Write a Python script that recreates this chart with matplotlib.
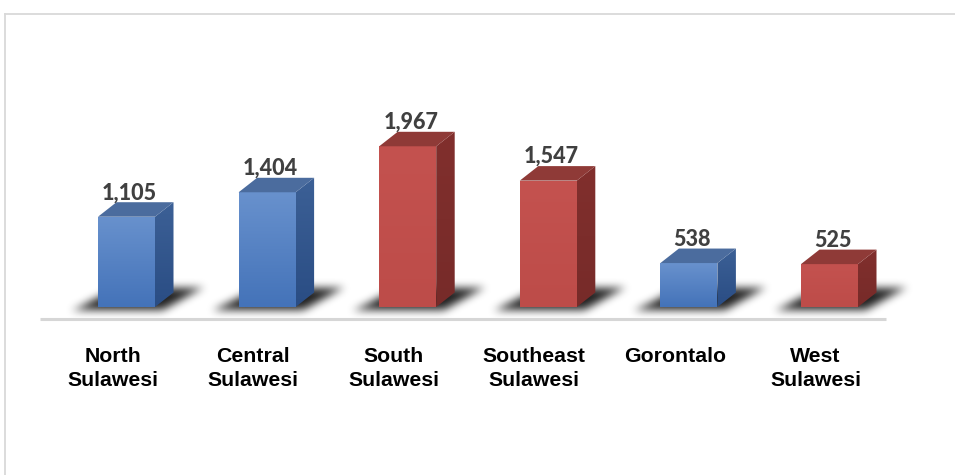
import numpy as np
import matplotlib
matplotlib.use("Agg")
import matplotlib.pyplot as plt
from matplotlib.patches import Polygon
from matplotlib.path import Path
from matplotlib.colors import to_rgb

# ---- data ----
categories = ["North\nSulawesi", "Central\nSulawesi", "South\nSulawesi",
              "Southeast\nSulawesi", "Gorontalo", "West\nSulawesi"]
values = [1105, 1404, 1967, 1547, 538, 525]
value_labels = ["1,105", "1,404", "1,967", "1,547", "538", "525"]
bar_groups = ["blue", "blue", "red", "red", "blue", "red"]

# ---- styles ----
W, H, DPI = 955, 475, 100
palette = {
    "blue": dict(front_top="#6891cd", front_bot="#4473b9",
                 side_top="#3c6096", side_bot="#2a4d84", top="#4b6c9e"),
    "red": dict(front_top="#c4524f", front_bot="#bd4c49",
                side_top="#812f2d", side_bot="#772b29", top="#8f3a37"),
}
px_per_cat = 140.6
px_per_unit = 0.0817
x0_px = 126.5          # front-face centre of first bar (pixels from left)
base_px = 475 - 307    # baseline (pixels from bottom)
bar_w_px = 57
depth_dx_px, depth_dy_px = 18.5, 14.5

fig = plt.figure(figsize=(W / DPI, H / DPI), dpi=DPI)
fig.patch.set_facecolor("white")
ax = fig.add_axes([0, 0, 1, 1])
ax.set_axis_off()
xlim = (-x0_px / px_per_cat, (W - x0_px) / px_per_cat)
ylim = (-base_px / px_per_unit, (H - base_px) / px_per_unit)

half_w = bar_w_px / 2 / px_per_cat
ddx = depth_dx_px / px_per_cat
ddy = depth_dy_px / px_per_unit


def grad_img(c_top, c_bot, n=64):
    a = np.array(to_rgb(c_top))
    b = np.array(to_rgb(c_bot))
    t = np.linspace(0, 1, n)[:, None]
    return (a * (1 - t) + b * t)[:, None, :]


# ---- floor shadows (blurred) ----
ax.set_xlim(*xlim)
ax.set_ylim(*ylim)
yy, xx = np.mgrid[0:H, 0:W]
pts = np.column_stack([xx.ravel() + 0.5, (H - yy.ravel() - 0.5)])
mask = np.zeros(H * W)
for i, v in enumerate(values):
    (xl, yb), = ax.transData.transform([(i - half_w, 0)])
    (xr, _), = ax.transData.transform([(i + half_w, 0)])
    poly = [(xl - 28, yb - 4), (xr + 8, yb - 4),
            (xr + depth_dx_px + 32, yb + 20), (xl + depth_dx_px, yb + 20)]
    mask = np.maximum(mask, Path(poly).contains_points(pts).astype(float))
mask = mask.reshape(H, W)


def box_blur(a, r):
    for axis in (0, 1):
        c = np.cumsum(np.pad(a, [(r + 1, r) if k == axis else (0, 0) for k in range(2)],
                             mode="edge"), axis=axis)
        if axis == 0:
            a = (c[2 * r + 1:] - c[:-2 * r - 1]) / (2 * r + 1)
        else:
            a = (c[:, 2 * r + 1:] - c[:, :-2 * r - 1]) / (2 * r + 1)
    return a


for _ in range(3):
    mask = box_blur(mask, 4)
shadow = np.zeros((H, W, 4))
shadow[..., 3] = np.clip(mask * 0.9, 0, 1) ** 1.3
ax.imshow(shadow, extent=[xlim[0], xlim[1], ylim[0], ylim[1]], origin="upper",
          aspect="auto", zorder=1, interpolation="nearest")

# ---- bars ----
for i, (v, g) in enumerate(zip(values, bar_groups)):
    p = palette[g]
    xl, xr = i - half_w, i + half_w
    front = Polygon([(xl, 0), (xr, 0), (xr, v), (xl, v)], closed=True,
                    facecolor="none", edgecolor="none")
    ax.add_patch(front)
    im = ax.imshow(grad_img(p["front_top"], p["front_bot"]), extent=[xl, xr, 0, v],
                   aspect="auto", zorder=3, origin="upper", interpolation="bilinear")
    im.set_clip_path(front)
    side = Polygon([(xr, 0), (xr + ddx, ddy), (xr + ddx, v + ddy), (xr, v)],
                   closed=True, facecolor="none", edgecolor="none")
    ax.add_patch(side)
    im2 = ax.imshow(grad_img(p["side_top"], p["side_bot"]),
                    extent=[xr, xr + ddx, 0, v + ddy],
                    aspect="auto", zorder=3, origin="upper", interpolation="bilinear")
    im2.set_clip_path(side)
    top = Polygon([(xl, v), (xr, v), (xr + ddx, v + ddy), (xl + ddx, v + ddy)],
                  closed=True, facecolor=p["top"], edgecolor="none", zorder=3)
    ax.add_patch(top)

    ax.annotate(value_labels[i], (i, v), xytext=(3 * 0.72, (depth_dy_px + 3) * 0.72),
                textcoords="offset points", ha="center", va="baseline",
                fontsize=15.5, fontweight=900, family="Lato", color="#404040",
                zorder=5)
    ax.annotate(categories[i], (i, 0), xytext=(-14 * 0.72, -40 * 0.72),
                textcoords="offset points", ha="center", va="top",
                fontsize=15.3, fontweight="bold", family="Liberation Sans",
                color="black", linespacing=1.35, multialignment="center", zorder=5)

ax.set_xlim(*xlim)
ax.set_ylim(*ylim)

# ---- baseline & frame ----
fig.add_artist(plt.Line2D([40 / W, 886 / W], [1 - 318.5 / H] * 2, color="#d6d6d6",
                          lw=2.2, solid_capstyle="butt"))
fig.add_artist(plt.Line2D([4.5 / W, 1], [1 - 13.5 / H] * 2, color="#d9d9d9", lw=1.3))
fig.add_artist(plt.Line2D([4.5 / W] * 2, [0, 1 - 13.5 / H], color="#d9d9d9", lw=1.3))

fig.savefig("out.png", dpi=DPI, facecolor="white")
